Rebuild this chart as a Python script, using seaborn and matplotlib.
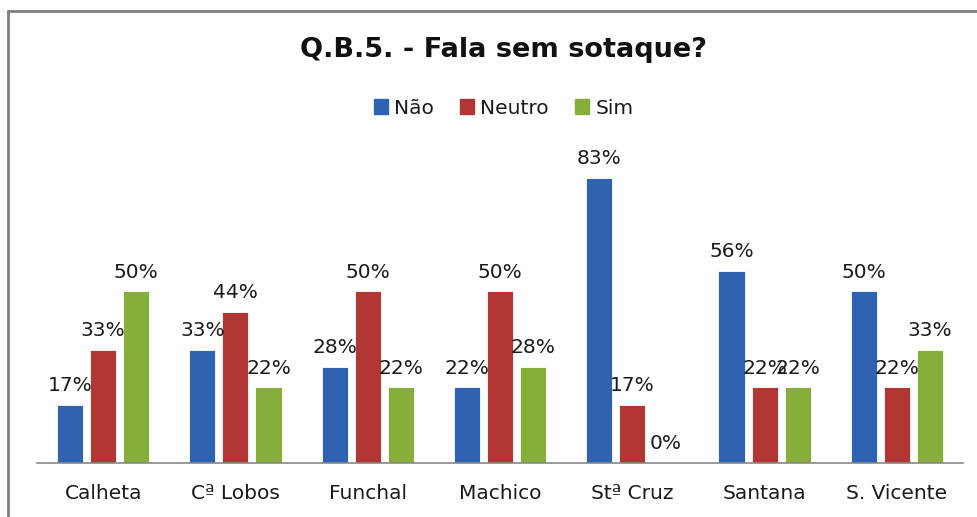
import matplotlib
matplotlib.use("Agg")
from matplotlib import pyplot as plt
from matplotlib.lines import Line2D
import pandas as pd
import seaborn as sns

categorias = ["Calheta", "Cª Lobos", "Funchal", "Machico", "Stª Cruz", "Santana", "S. Vicente"]
respostas = ["Não", "Neutro", "Sim"]
nao = [17, 33, 28, 22, 83, 56, 50]
neutro = [33, 44, 50, 50, 17, 22, 22]
sim = [50, 22, 22, 28, 0, 22, 33]
cores = ["#2F62B0", "#B23634", "#86AE3B"]

df = pd.DataFrame({
    "local": categorias * 3,
    "resposta": ["Não"] * 7 + ["Neutro"] * 7 + ["Sim"] * 7,
    "valor": nao + neutro + sim,
})

sns.set_style("white")
plt.rcParams["font.family"] = ["DejaVu Sans"]

fig = plt.figure(figsize=(9.78, 5.17), dpi=100)
ax = fig.add_axes([37 / 978, 1 - 463 / 517, 926 / 978, 309 / 517])

sns.barplot(data=df, x="local", y="valor", hue="resposta", hue_order=respostas,
            palette=cores, saturation=1, width=0.75, gap=0.21, ax=ax, legend=False,
            edgecolor="white", linewidth=0.6)

# etiquetas de valor (como no original, as de Santana sobrepõem-se)
for cont in ax.containers:
    ax.bar_label(cont, fmt="%d%%", padding=7, fontsize=14.5, color="#1a1a1a")

ax.set_ylim(0, 90)
ax.set_xlim(-0.5, 6.5)
ax.set_xlabel("")
ax.set_ylabel("")
ax.set_yticks([])
ax.tick_params(axis="x", length=0, labelsize=14.5, pad=15, labelcolor="#1a1a1a")
for s in ["left", "top", "right"]:
    ax.spines[s].set_visible(False)
ax.spines["bottom"].set_color("#888888")
ax.spines["bottom"].set_linewidth(1.2)

fig.text(0.515, 1 - 50 / 517, "Q.B.5. - Fala sem sotaque?", ha="center", va="center",
         fontsize=19.5, fontweight="bold", color="#111111")

handles = [plt.Rectangle((0, 0), 1, 1, color=c) for c in cores]
fig.legend(handles, respostas, loc="center", bbox_to_anchor=(0.515, 1 - 108 / 517),
           ncol=3, frameon=False, fontsize=14.5, handlelength=0.7, handleheight=0.7,
           handletextpad=0.3, columnspacing=1.3, labelcolor="#1a1a1a")

# moldura cortada
fig.add_artist(Line2D([8 / 978, 8 / 978], [0, 1 - 11 / 517], color="#7f7f7f", lw=2))
fig.add_artist(Line2D([8 / 978, 1], [1 - 11 / 517, 1 - 11 / 517], color="#7f7f7f", lw=2))

plt.savefig("out.png", dpi=100)
